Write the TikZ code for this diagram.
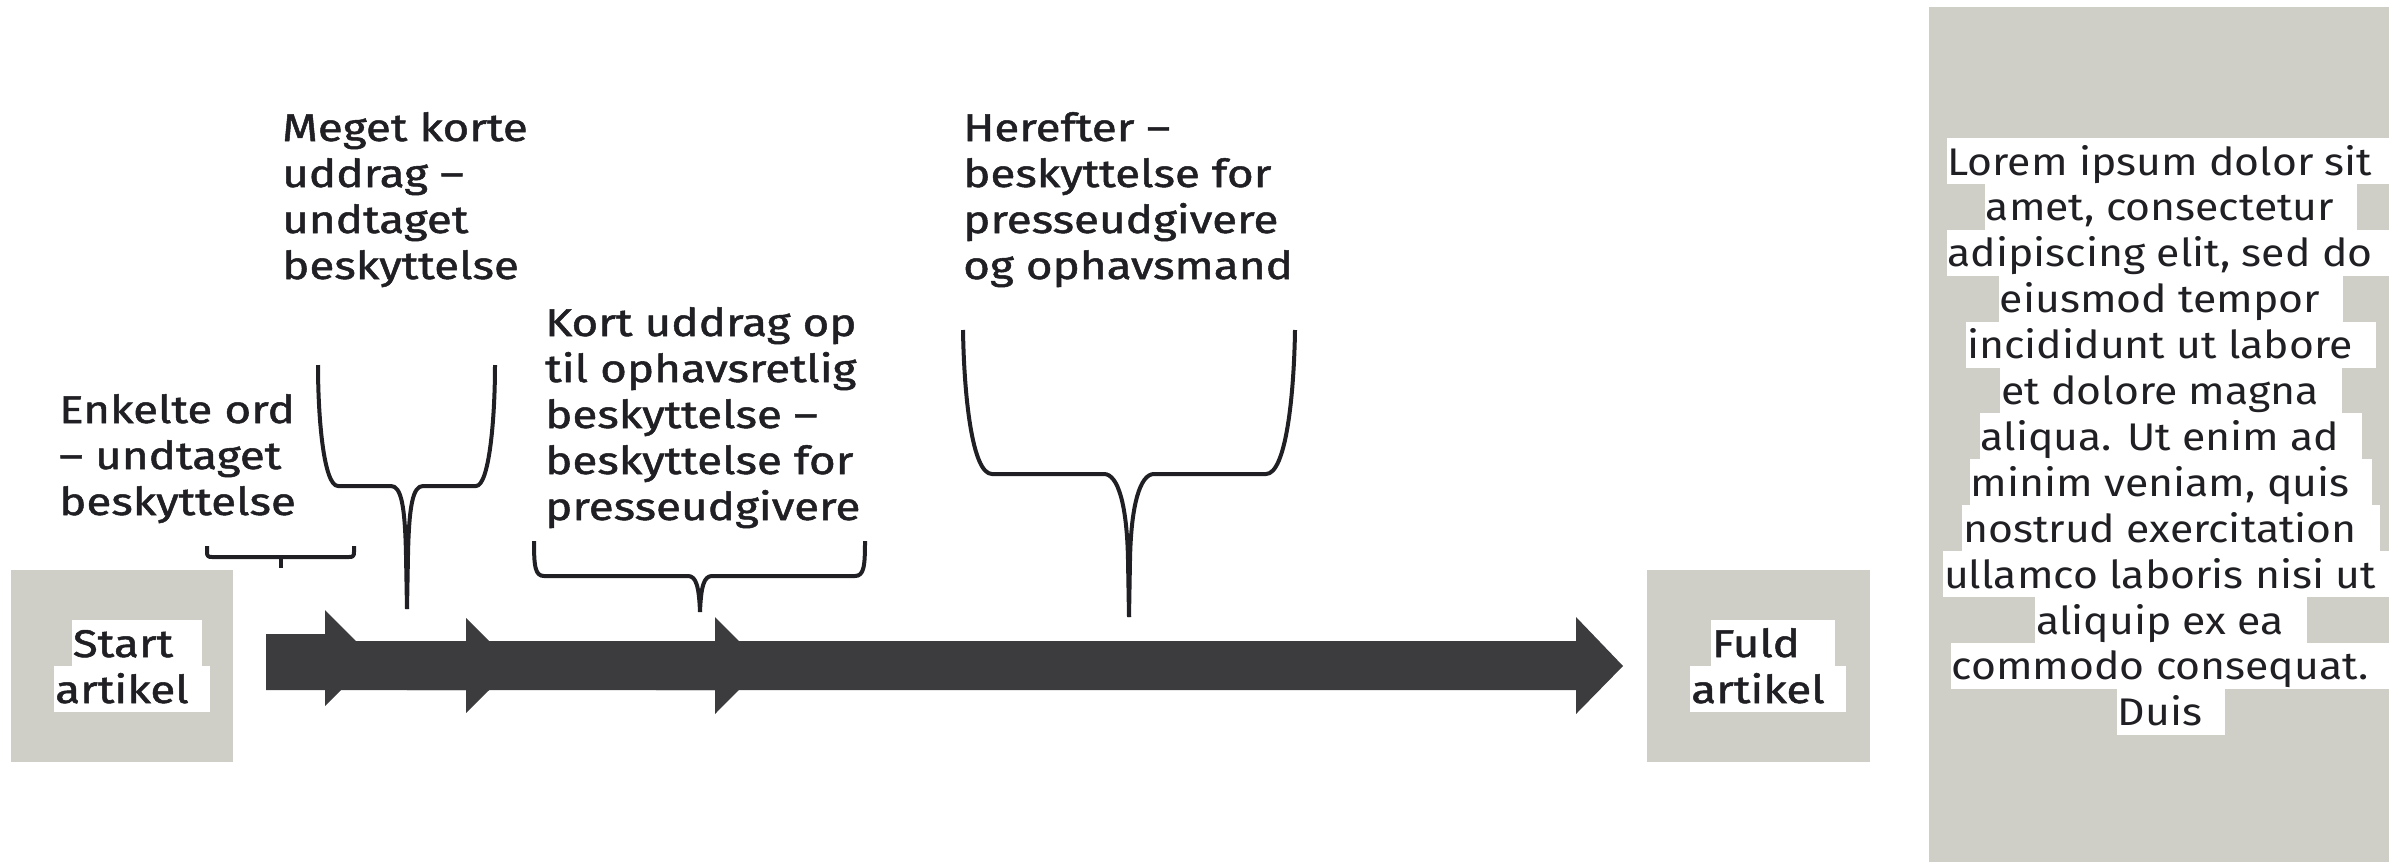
\documentclass[tikz,border=0pt]{standalone}
\usepackage{fontspec}
\setmainfont{Fira Sans}[FakeStretch=1.11]
\newfontfamily\lblfont{Fira Sans}[FakeStretch=1.19, FakeBold=1.3]
\definecolor{boxgrey}{RGB}{207,207,199}
\definecolor{arrowdark}{RGB}{60,60,62}
\definecolor{ink}{RGB}{32,32,36}
\newcommand\trail[1]{\hbox to #1pt{}}
\begin{document}
\begin{tikzpicture}[x=1pt,y=-1pt,
  lbl/.style={anchor=base west, inner sep=0pt, text=ink, font=\lblfont\fontsize{38.5}{46}\selectfont},
  hl/.style={anchor=base, fill=white, inner xsep=1pt, inner ysep=0pt, text height=37pt, text depth=9pt, text=ink, font=\fontsize{38.5}{46}\selectfont},
  hlb/.style={hl, font=\lblfont\fontsize{38.5}{46}\selectfont},
  gbox/.style={fill=boxgrey, draw=none, inner sep=0pt, anchor=north west},
  brace/.style={draw=ink, line width=4pt, line cap=butt, line join=round},
  arr/.style={fill=arrowdark, draw=none}]
\useasboundingbox (0,0) rectangle (2389,862);

% grey boxes
\node[gbox, minimum width=222pt, minimum height=192pt] (startbox) at (11,570) {};
\node[gbox, minimum width=223pt, minimum height=192pt] (fuldbox) at (1647,570) {};
\node[gbox, minimum width=460pt, minimum height=855pt] (panel) at (1929,7) {};

% box texts
\node[hlb] (start1) at (137,657) {Start\trail{28}};
\node[hlb] (start2) at (132,703) {artikel\trail{20}};
\node[hlb] (fuld1) at (1773,657) {Fuld\trail{34}};
\node[hlb] (fuld2) at (1768,703) {artikel\trail{20}};

% panel text
\foreach \t [count=\i] in {Lorem ipsum dolor sit,{amet, consectetur},{adipiscing elit, sed do},eiusmod tempor,incididunt ut labore,et dolore magna,aliqua. Ut enim ad,{minim veniam, quis},nostrud exercitation,ullamco laboris nisi ut,aliquip ex ea,commodo consequat.,Duis}
  \node[hl] (lorem\i) at (2171,{175+45.9*(\i-1)}) {\t\trail{22}};

% labels
\node[lbl] (enkelte) at (59,423) {\vtop{\hbox{Enkelte ord}\hbox{– undtaget}\hbox{beskyttelse}}};
\node[lbl] (meget) at (282,141) {\vtop{\hbox{Meget korte}\hbox{uddrag –}\hbox{undtaget}\hbox{beskyttelse}}};
\node[lbl] (kort) at (545,336) {\vtop{\hbox{Kort uddrag op}\hbox{til ophavsretlig}\hbox{beskyttelse –}\hbox{beskyttelse for}\hbox{presseudgivere}}};
\node[lbl] (herefter) at (963,141) {\vtop{\hbox{Herefter –}\hbox{beskyttelse for}\hbox{presseudgivere}\hbox{og ophavsmand}}};

% arrows
\fill[arr] (266,634) -- (325,634) -- (325,610) -- (373,658) -- (325,706) -- (325,690) -- (266,690) -- cycle;
\fill[arr] (407,642) -- (466,642) -- (466,618) -- (514,665.5) -- (466,713) -- (466,690) -- (407,690) -- cycle;
\fill[arr] (656,641) -- (715,641) -- (715,617) -- (763,665.5) -- (715,714) -- (715,690) -- (656,690) -- cycle;
\fill[arr] (340,641) -- (1576,641) -- (1576,617) -- (1623,666) -- (1576,714) -- (1576,690) -- (340,690) -- cycle;

% brace 1 (Enkelte ord)
\draw[brace] (207,546) -- (207,552) .. controls (207,556) and (208,557) .. (212,557) -- (349,557) .. controls (353,557) and (354,556) .. (354,552) -- (354,546);
\draw[brace] (281,557) -- (281,568);

% brace 2 (Meget korte)
\draw[brace] (318,365) .. controls (318,420) and (324,486) .. (338,486) -- (391,486) .. controls (401,486) and (405,505) .. (406,555) -- (407,609);
\draw[brace] (495,365) .. controls (495,420) and (489,486) .. (476,486) -- (423,486) .. controls (413,486) and (409,505) .. (408,555) -- (407,609);

% brace 3 (Kort uddrag)
\draw[brace] (534,541) .. controls (534,566) and (535,576) .. (544,576) -- (688,576) .. controls (696,576) and (699,586) .. (700,612);
\draw[brace] (865,541) .. controls (865,566) and (864,576) .. (855,576) -- (712,576) .. controls (704,576) and (701,586) .. (700,612);

% brace 4 (Herefter)
\draw[brace] (963,330) .. controls (964,395) and (972,474) .. (992,474) -- (1104,474) .. controls (1118,474) and (1127,505) .. (1128,560) -- (1129,617);
\draw[brace] (1295,330) .. controls (1294,395) and (1286,474) .. (1266,474) -- (1154,474) .. controls (1140,474) and (1131,505) .. (1130,560) -- (1129,617);
\end{tikzpicture}
\end{document}
